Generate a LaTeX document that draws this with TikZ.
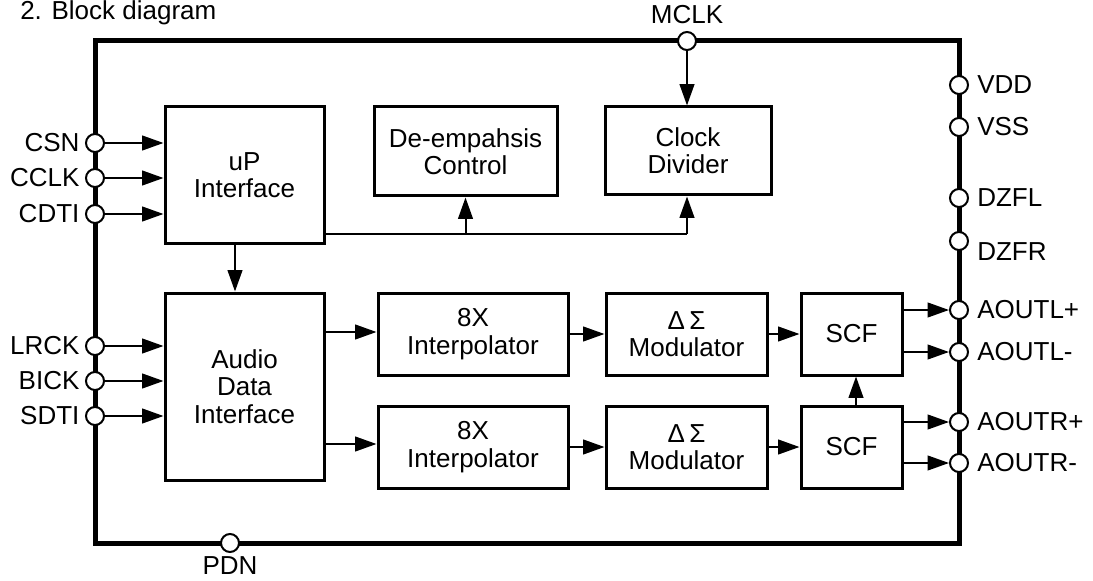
\documentclass[tikz,border=0pt]{standalone}
\usepackage{fontspec}
\setmainfont{Liberation Sans}
\usepackage{tikz}
\usetikzlibrary{positioning, arrows.meta, calc}

\begin{document}
\begin{tikzpicture}[x=0.75pt, y=-0.75pt,
    every node/.style={font=\fontsize{19.5}{20.5}\selectfont},
    boxsize/.style 2 args={minimum width=#1*0.75pt, minimum height=#2*0.75pt},
    blk/.style={rectangle, draw, line width=2.25pt, align=center, inner sep=0pt},
    pin/.style={circle, draw, fill=white, line width=1.5pt, minimum size=13.5pt, inner sep=0pt},
    sig/.style={line width=1.5pt, -{Triangle[length=16pt, width=11pt]}},
    wire/.style={line width=1.5pt}]
    \useasboundingbox (0,0) rectangle (1093,581);

    \node[anchor=base west, inner sep=0pt] (title) at (20,20) {2. Block diagram};

    % chip outline
    \draw[line width=3.75pt] (95,41) rectangle (959,543);

    % blocks
    \node[blk, boxsize={159}{137}] (up) at (244.5,175.5) {uP\\Interface};
    \node[blk, boxsize={159}{187}] (adi) at (244.5,386.5) {Audio\\Data\\Interface};
    \node[blk, boxsize={183}{89}] (de) at (465.5,151.5) {De-empahsis\\Control};
    \node[blk, boxsize={166}{88}] (cd) at (688,151) {Clock\\Divider};
    \foreach \i/\yy in {1/334, 2/447} {
        \node[blk, boxsize={190}{82}] (ip\i) at (473,\yy) {8X\\Interpolator};
        \node[blk, boxsize={161}{82}] (mod\i) at (686.5,\yy) {Δ\,Σ\\Modulator};
        \node[blk, boxsize={101}{82}] (scf\i) at (851.5,\yy) {SCF};
    }

    % pins
    \foreach \nm/\yy/\txt in {csn/143/CSN, cclk/178/CCLK, cdti/214/CDTI, lrck/346/LRCK, bick/381/BICK, sdti/416/SDTI} {
        \node[pin] (\nm) at (95,\yy) {};
        \node[left=4pt of \nm, inner sep=0pt] (\nm-lbl) {\txt};
    }
    \foreach \nm/\yy/\txt in {vdd/85/VDD, vss/127/VSS, dzfl/198/DZFL, aoutlp/310/AOUTL+, aoutlm/352/AOUTL-, aoutrp/422/AOUTR+, aoutrm/463/AOUTR-} {
        \node[pin] (\nm) at (959,\yy) {};
        \node[right=6pt of \nm, inner sep=0pt] (\nm-lbl) {\txt};
    }
    \node[pin] (dzfr) at (959,241) {};
    \node[anchor=west, inner sep=0pt] (dzfr-lbl) at ($(dzfr.east)+(8,11)$) {DZFR};
    \node[pin] (mclk) at (687,41) {};
    \node[above=5pt of mclk, inner sep=0pt] (mclk-lbl) {MCLK};
    \node[pin] (pdn) at (230,543) {};
    \node[below=2.5pt of pdn, inner sep=0pt] (pdn-lbl) {PDN};

    % inputs
    \foreach \nm in {csn,cclk,cdti}
        \draw[sig] (\nm) -- (\nm -| up.west);
    \foreach \nm in {lrck,bick,sdti}
        \draw[sig] (\nm) -- (\nm -| adi.west);
    \draw[sig] (mclk) -- (mclk |- cd.north);

    % control bus
    \coordinate (busend) at (mclk |- 0,234);
    \draw[wire] (up.east |- busend) -- (busend);
    \draw[sig] (busend) -- (busend |- cd.south);
    \draw[sig] (de.south |- busend) -- (de.south);
    \draw[sig] ($(up.south)+(-9.5,0)$) -- ($(adi.north)+(-9.5,0)$);

    % data path
    \draw[sig] (adi.east |- 0,332) -- (ip1.west |- 0,332);
    \draw[sig] (adi.east |- 0,444) -- (ip2.west |- 0,444);
    \foreach \i in {1,2} {
        \draw[sig] (ip\i) -- (mod\i);
        \draw[sig] (mod\i) -- (scf\i);
    }
    \draw[sig] ($(scf2.north)+(4.5,0)$) -- ($(scf1.south)+(4.5,0)$);

    % outputs
    \draw[sig] (scf1.east |- aoutlp) -- (aoutlp);
    \draw[sig] (scf1.east |- aoutlm) -- (aoutlm);
    \draw[sig] (scf2.east |- aoutrp) -- (aoutrp);
    \draw[sig] (scf2.east |- aoutrm) -- (aoutrm);
\end{tikzpicture}
\end{document}
